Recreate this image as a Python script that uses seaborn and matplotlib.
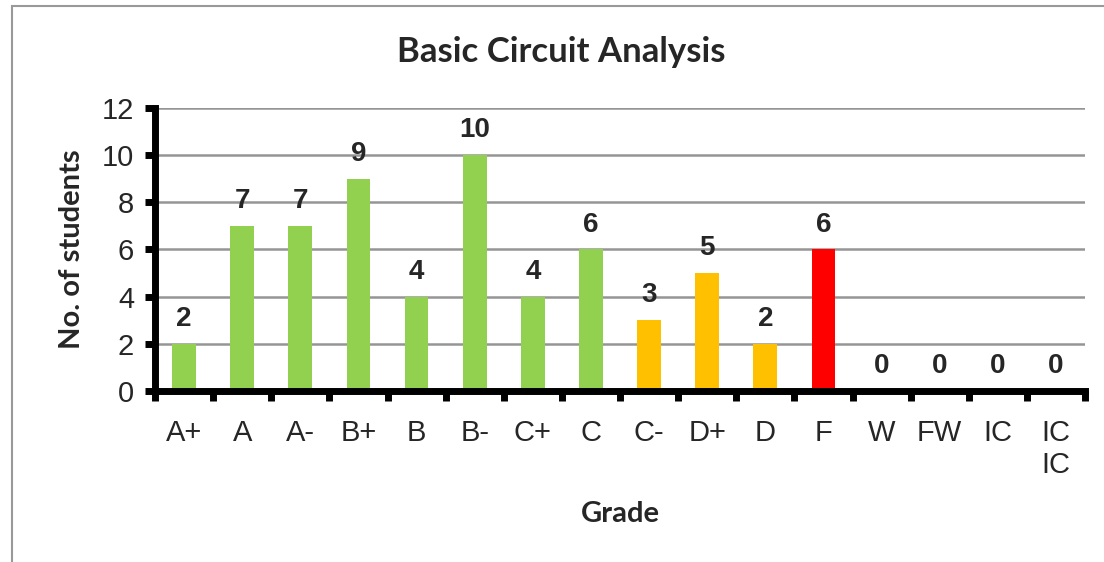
import matplotlib
matplotlib.use('Agg')
import matplotlib.pyplot as plt
import seaborn as sns
import pandas as pd
import numpy as np

# Data
grades = ['A+', 'A', 'A-', 'B+', 'B', 'B-', 'C+', 'C', 'C-', 'D+', 'D', 'F', 'W', 'FW', 'IC', 'IC\nIC']
students = [2, 7, 7, 9, 4, 10, 4, 6, 3, 5, 2, 6, 0, 0, 0, 0]
colors = ['#92D050'] * 8 + ['#FFC000'] * 3 + ['#FF0000'] + ['#92D050'] * 4

df = pd.DataFrame({'grade': grades, 'students': students})

sns.set_style('white')
plt.rcParams['font.family'] = ['Liberation Sans', 'DejaVu Sans']

fig = plt.figure(figsize=(11.04, 5.62), dpi=100)
ax = fig.add_axes([0.1404, 0.3043, 0.8424, 0.5035])

sns.barplot(data=df, x='grade', y='students', hue='grade', palette=colors,
            legend=False, width=0.41, saturation=1, linewidth=0, ax=ax)

ax.set_ylim(0, 12)
ax.set_xlim(-0.5, len(grades) - 0.5)
ax.set_yticks(range(0, 13, 2))
ax.yaxis.grid(True, color='#959595', linewidth=1.8)
ax.set_axisbelow(True)

for s in ['top', 'right']:
    ax.spines[s].set_visible(False)
for s in ['left', 'bottom']:
    ax.spines[s].set_linewidth(5)
    ax.spines[s].set_color('black')

ax.tick_params(axis='y', length=7, width=5, color='black', labelsize=21, pad=8, left=True)
ax.tick_params(axis='x', which='major', length=0, labelsize=21, pad=20)
ax.set_xticks(np.arange(-0.5, len(grades), 1), minor=True)
ax.tick_params(axis='x', which='minor', length=7, width=5, color='black', bottom=True)

for i, v in enumerate(students):
    ax.text(i, v + 0.5, str(v), ha='center', va='bottom', fontsize=20, fontweight='bold')

ax.set_xlabel('Grade', fontsize=21, fontweight='bold', family=['Lato', 'DejaVu Sans'], labelpad=16)
ax.set_ylabel('No. of students', fontsize=21, fontweight='bold', family=['Lato', 'DejaVu Sans'], labelpad=12)

# title is centred on the chart area, not the plot area
fig.text(0.508, 0.89, 'Basic Circuit Analysis', ha='center', va='baseline',
         fontsize=25, fontweight='bold', family=['Lato', 'DejaVu Sans'])

# grey frame around the chart area
frame = plt.Rectangle((0.011, -0.05), 1.2, 1.04, transform=fig.transFigure,
                      fill=False, edgecolor='#999999', linewidth=1.5)
fig.add_artist(frame)

fig.savefig('out.png', dpi=100)
